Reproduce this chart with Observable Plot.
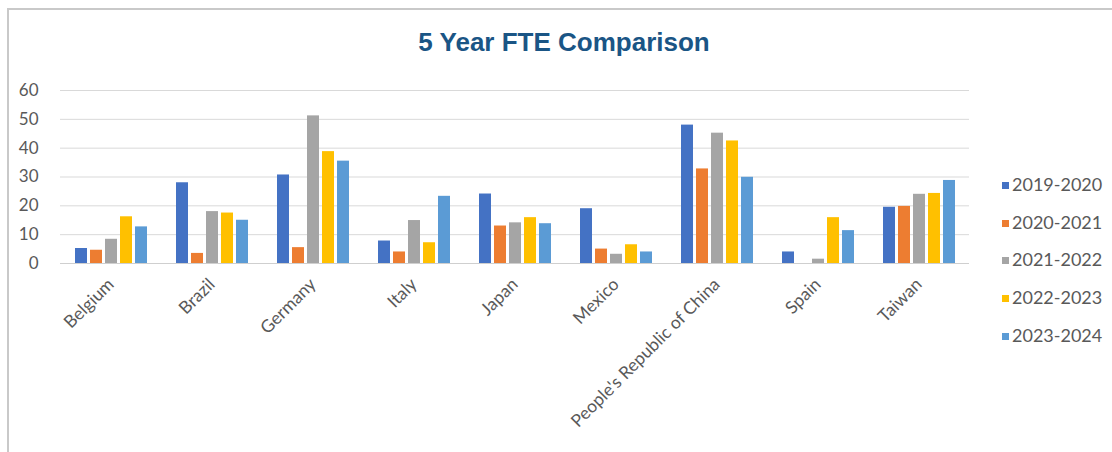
<!DOCTYPE html>
<html>
<head>
<meta charset="utf-8">
<script src="https://cdn.jsdelivr.net/npm/d3@7"></script>
<script src="https://cdn.jsdelivr.net/npm/@observablehq/plot@0.6"></script>
<style>
  html, body { margin: 0; padding: 0; background: #fff; }
  #wrap { position: relative; width: 1112px; height: 452px; overflow: hidden; font-family: Lato, "Open Sans", sans-serif; }
  #frame { position: absolute; left: 7px; top: 8px; width: 1200px; height: 600px; border: 2px solid #c9c9c9; box-sizing: border-box; }
  #title { position: absolute; left: 0; top: 27px; width: 1128px; text-align: center; font-family: "Liberation Sans", Arial, sans-serif; font-weight: bold; font-size: 26px; color: #1a5585; }
  #chart { position: absolute; left: 0; top: 70px; }
  #legend { position: absolute; left: 1002px; top: 173px; }
  .item { height: 37.7px; display: flex; align-items: flex-start; font-size: 18px; color: #595959; }
  .sw { width: 7px; height: 7px; margin-right: 3px; margin-top: 9px; }
</style>
</head>
<body>
<div id="wrap">
  <div id="frame"></div>
  <div id="title">5 Year FTE Comparison</div>
  <div id="chart"></div>
  <div id="legend"></div>
</div>
<script>
const countries = ["Belgium", "Brazil", "Germany", "Italy", "Japan", "Mexico", "People's Republic of China", "Spain", "Taiwan"];
const seriesNames = ["2019-2020", "2020-2021", "2021-2022", "2022-2023", "2023-2024"];
const colors = ["#4472C4", "#ED7D31", "#A5A5A5", "#FFC000", "#5B9BD5"];
const v2019 = [5.2, 28.0, 30.7, 7.8, 24.1, 19.0, 48.0, 4.0, 19.5];
const v2020 = [4.6, 3.5, 5.5, 4.0, 13.0, 5.0, 32.8, 0, 19.8];
const v2021 = [8.4, 18.0, 51.2, 14.9, 14.1, 3.2, 45.2, 1.5, 24.0];
const v2022 = [16.2, 17.5, 38.8, 7.2, 15.9, 6.5, 42.5, 15.9, 24.3];
const v2023 = [12.7, 15.0, 35.5, 23.3, 13.8, 4.0, 29.9, 11.4, 28.8];
const yTicks = [0, 10, 20, 30, 40, 50, 60];

const seriesValues = [v2019, v2020, v2021, v2022, v2023];
const data = [];
countries.forEach((c, i) => {
  seriesNames.forEach((s, j) => {
    data.push({country: c, series: s, value: seriesValues[j][i]});
  });
});

const chart = Plot.plot({
  width: 1112,
  height: 382,
  marginLeft: 58,
  marginRight: 141,
  marginTop: 20,
  marginBottom: 189,
  style: {fontFamily: "Lato, 'Open Sans', sans-serif", fontSize: "16px", color: "#595959", background: "transparent", overflow: "visible"},
  fx: {domain: countries, padding: 0, label: null, tickSize: 0, tickRotate: -45, tickPadding: 18},
  x: {domain: seriesNames, paddingInner: 0.23, paddingOuter: 0.85, axis: null},
  y: {domain: [0, 60], ticks: yTicks, label: null, tickSize: 0, tickPadding: 22},
  color: {domain: seriesNames, range: colors},
  marks: [
    Plot.gridY(yTicks.filter(d => d > 0), {stroke: "#d9d9d9", strokeOpacity: 1, strokeWidth: 1}),
    Plot.axisY({ticks: yTicks, tickSize: 0, tickPadding: 22, fontSize: 17, anchor: "left"}),
    Plot.barY(data, {fx: "country", x: "series", y: "value", fill: "series"}),
    Plot.ruleY([0], {stroke: "#cfcfcf", strokeWidth: 1}),
    Plot.axisFx({tickSize: 0, tickRotate: -45, tickPadding: 18, fontSize: 17.5, anchor: "bottom", label: null})
  ]
});
document.getElementById("chart").appendChild(chart);

const legend = document.getElementById("legend");
seriesNames.forEach((s, j) => {
  const item = document.createElement("div");
  item.className = "item";
  const sw = document.createElement("span");
  sw.className = "sw";
  sw.style.background = colors[j];
  const t = document.createElement("span");
  t.textContent = s;
  item.appendChild(sw);
  item.appendChild(t);
  legend.appendChild(item);
});
</script>
</body>
</html>
